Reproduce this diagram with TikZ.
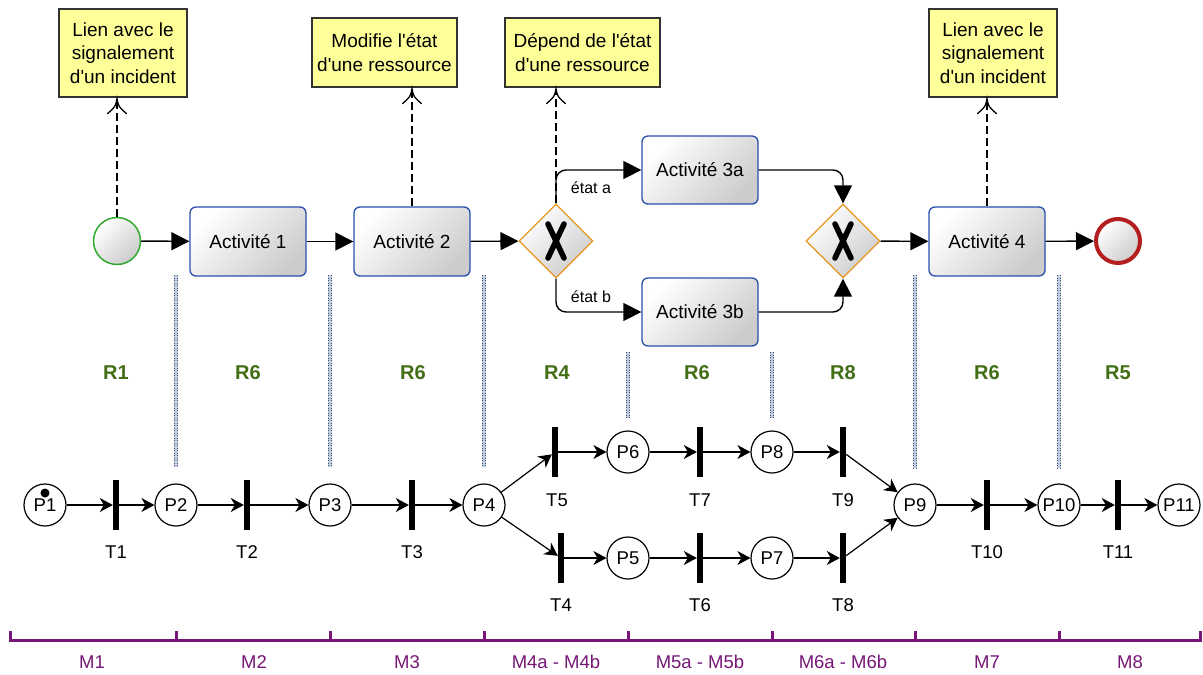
\documentclass[tikz,border=0pt]{standalone}
\usepackage{fontspec}
\setmainfont{Liberation Sans}
\usetikzlibrary{arrows.meta,shapes.geometric}
\definecolor{actblue}{RGB}{40,80,170}
\definecolor{gworange}{RGB}{230,150,30}
\definecolor{startgreen}{RGB}{50,170,50}
\definecolor{endred}{RGB}{180,30,30}
\definecolor{notefill}{RGB}{255,255,153}
\definecolor{rgreen}{RGB}{66,110,22}
\definecolor{mpurple}{RGB}{118,22,118}
\definecolor{sepblue}{RGB}{190,205,230}
\newcommand{\aps}{\textquotesingle}
\begin{document}
\begin{tikzpicture}[x=1pt,y=-1pt,
  shadedfill/.style={top color=white, bottom color=black!20, shading angle=45},
  activity/.style={rectangle, rounded corners=6pt, draw=actblue, line width=1.3pt, shadedfill,
    minimum width=116pt, minimum height=69pt, inner sep=0pt, font=\fontsize{19}{23}\selectfont},
  note/.style={rectangle, draw=black!80, line width=1.2pt, fill=notefill, align=center,
    inner sep=0pt, font=\fontsize{19}{23.5}\selectfont},
  gateway/.style={diamond, draw=gworange, line width=1.3pt, shadedfill, minimum size=74pt, inner sep=0pt},
  startev/.style={circle, draw=startgreen, line width=1.5pt, shadedfill, minimum size=47pt, inner sep=0pt},
  endev/.style={circle, draw=endred, line width=4pt, shadedfill, minimum size=44pt, inner sep=0pt},
  flow/.style={line width=1.4pt, -{Triangle[length=18pt,width=18pt]}},
  assoc/.style={line width=1.2pt, dash pattern=on 8pt off 4pt},
  assochead/.style={line width=1.3pt, solid, line cap=round},
  place/.style={circle, draw, line width=1.2pt, minimum size=42pt, inner sep=0pt, fill=white,
    font=\fontsize{18.5}{21}\selectfont},
  trans/.style={rectangle, fill=black, minimum width=6pt, minimum height=50pt, inner sep=0pt},
  pn/.style={line width=1.2pt, -{Stealth[length=13pt,width=14pt,inset=4pt]}},
  lbl/.style={font=\fontsize{18.5}{21}\selectfont},
  rlbl/.style={font=\fontsize{20}{24}\selectfont\bfseries, text=rgreen},
  mlbl/.style={font=\fontsize{18.5}{21}\selectfont, text=mpurple},
  sepback/.style={line width=3.5pt, sepblue},
  sepfront/.style={line width=0.8pt, black!70, dash pattern=on 1pt off 1.5pt},
  tl/.style={line width=3pt, mpurple}
]
\useasboundingbox (0,0) rectangle (1203,675);

% ---------- separators ----------
\foreach \x/\a/\b in {176/275/467, 330/275/467, 484/275/467, 628/352/418, 772/352/418, 915/275/468, 1059/275/468}{
  \draw[sepback] (\x,\a) -- (\x,\b);
  \draw[sepfront] (\x-1.5,\a) -- (\x-1.5,\b);
  \draw[sepfront] (\x+1.5,\a) -- (\x+1.5,\b);
}

% ---------- notes ----------
\node[note, minimum width=128pt, minimum height=88pt] (n1) at (123,53) {Lien avec le\\signalement\\d\aps un incident};
\node[note, minimum width=145pt, minimum height=69pt] (n2) at (384.5,52.5) {Modifie l\aps état\\d\aps une ressource};
\node[note, minimum width=155pt, minimum height=69pt] (n3) at (582.5,52.5) {Dépend de l\aps état\\d\aps une ressource};
\node[note, minimum width=128pt, minimum height=88pt] (n4) at (993,53) {Lien avec le\\signalement\\d\aps un incident};

% ---------- BPMN ----------
\node[startev] (start) at (117,241) {};
\node[activity] (a1) at (248,241.5) {Activité 1};
\node[activity] (a2) at (412,241.5) {Activité 2};
\node[gateway] (gw1) at (556,241) {};
\node[activity, minimum height=68pt] (a3a) at (700,170) {Activité 3a};
\node[activity, minimum height=68pt] (a3b) at (700,312) {Activité 3b};
\node[gateway] (gw2) at (843,241) {};
\node[activity] (a4) at (987,241.5) {Activité 4};
\node[endev] (end) at (1118,241) {};

\foreach \g in {gw1,gw2}{
  \draw[line width=5.5pt, line cap=round] ([shift={(-8,-17)}]\g.center) -- ([shift={(8,17)}]\g.center);
  \draw[line width=5.5pt, line cap=round] ([shift={(8,-17)}]\g.center) -- ([shift={(-8,17)}]\g.center);
}

\draw[flow] (start) -- (a1);
\draw[flow] (a1) -- (a2);
\draw[flow] (a2) -- (gw1);
\draw[flow, rounded corners=10pt] (gw1.north) |- (a3a.west);
\draw[flow, rounded corners=10pt] (gw1.south) |- (a3b.west);
\draw[flow, rounded corners=10pt] (a3a.east) -| (gw2.north);
\draw[flow, rounded corners=10pt] (a3b.east) -| (gw2.south);
\draw[flow] (gw2) -- (a4);
\draw[flow] (a4) -- (end);

\node[font=\fontsize{16}{19}\selectfont] (ea) at (591,188) {état a};
\node[font=\fontsize{16}{19}\selectfont] (eb) at (591,297) {état b};

\foreach \s/\n [count=\i] in {start/n1, a2/n2, gw1/n3, a4/n4}{
  \coordinate (tip\i) at ([yshift=-1pt]\s.north |- \n.south);
  \draw[assoc] (\s.north) -- (tip\i);
  \draw[assochead] ([shift={(-9.5,15)}]tip\i) .. controls ([shift={(-1.5,8)}]tip\i) .. (tip\i)
    .. controls ([shift={(1.5,8)}]tip\i) .. ([shift={(9.5,15)}]tip\i);
}

% ---------- R labels ----------
\foreach \x/\t [count=\i] in {116/R1, 248/R6, 413/R6, 557/R4, 697/R6, 843/R8, 987/R6, 1118/R5}{
  \node[rlbl] (r\i) at (\x,373) {\t};
}

% ---------- Petri net ----------
\node[place] (p1) at (45,505) {P1};
\node[place] (p2) at (176,505) {P2};
\node[place] (p3) at (330,505) {P3};
\node[place] (p4) at (484,505) {P4};
\node[place] (p6) at (628,452) {P6};
\node[place] (p5) at (628,558) {P5};
\node[place] (p8) at (772,452) {P8};
\node[place] (p7) at (772,558) {P7};
\node[place] (p9) at (915,505) {P9};
\node[place] (p10) at (1059,505) {P10};
\node[place] (p11) at (1179,505) {P11};
\fill (45,493) circle (4.5pt);

\node[trans] (t1) at (116,505) {};
\node[trans] (t2) at (247,505) {};
\node[trans] (t3) at (412,505) {};
\node[trans] (t5) at (555,452) {};
\node[trans] (t4) at (561,558) {};
\node[trans] (t7) at (700,452) {};
\node[trans] (t6) at (700,558) {};
\node[trans] (t9) at (843,452) {};
\node[trans] (t8) at (843,558) {};
\node[trans] (t10) at (987,505) {};
\node[trans] (t11) at (1118,505) {};

\node[lbl] (lt1) at (116,552) {T1};
\node[lbl] (lt2) at (247,552) {T2};
\node[lbl] (lt3) at (412,552) {T3};
\node[lbl] (lt5) at (557,500) {T5};
\node[lbl] (lt4) at (561,605) {T4};
\node[lbl] (lt7) at (700,500) {T7};
\node[lbl] (lt6) at (700,605) {T6};
\node[lbl] (lt9) at (843,500) {T9};
\node[lbl] (lt8) at (843,605) {T8};
\node[lbl] (lt10) at (987,552) {T10};
\node[lbl] (lt11) at (1118,552) {T11};

\foreach \a/\b in {p1/t1, t1/p2, p2/t2, t2/p3, p3/t3, t3/p4, p4/t5, p4/t4, t5/p6, p6/t7, t7/p8, p8/t9,
  t4/p5, p5/t6, t6/p7, p7/t8, t9/p9, t8/p9, p9/t10, t10/p10, p10/t11, t11/p11}{
  \draw[pn] (\a) -- (\b);
}

% ---------- timeline ----------
\draw[tl] (10,640) -- (1200,640);
\foreach \x in {10,176,330,484,628,772,915,1059,1200}{
  \draw[tl] (\x,631) -- (\x,641.5);
}
\foreach \x/\t [count=\i] in {92/M1, 254/M2, 407/M3, 556/{M4a - M4b}, 700/{M5a - M5b}, 843/{M6a - M6b}, 987/M7, 1130/M8}{
  \node[mlbl] (m\i) at (\x,662) {\t};
}
\end{tikzpicture}
\end{document}
